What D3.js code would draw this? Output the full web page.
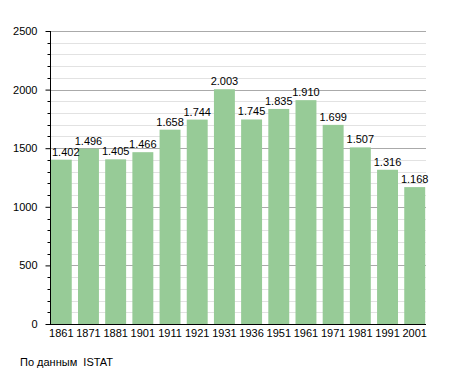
<!DOCTYPE html>
<html>
<head>
<meta charset="utf-8">
<script src="https://cdn.jsdelivr.net/npm/d3@7"></script>
<style>
  body { margin: 0; background: #fff; }
  text { font-family: "Liberation Sans", Arial, sans-serif; font-size: 11px; fill: #000; }
</style>
</head>
<body>
<svg id="chart"></svg>
<script>
// population by census year
var years = ['1861', '1871', '1881', '1901', '1911', '1921', '1931', '1936', '1951', '1961', '1971', '1981', '1991', '2001'];
var population = [1402, 1496, 1405, 1466, 1658, 1744, 2003, 1745, 1835, 1910, 1699, 1507, 1316, 1168];
var yTicks = [0, 500, 1000, 1500, 2000, 2500];
var sourceNote = 'По данным  ISTAT';

var width = 455, height = 373;
var plotLeft = 50, plotRight = 426, plotTop = 31, plotBottom = 324;

var svg = d3.select('#chart')
            .attr('width', width)
            .attr('height', height);

var x = d3.scaleBand()
          .domain(years)
          .range([plotLeft, plotRight])
          .paddingInner(0.23)
          .paddingOuter(0.03);

var y = d3.scaleLinear()
          .domain([0, 2500])
          .range([plotBottom, plotTop]);

// minor gridlines every 100
var minor = d3.range(100, 2501, 100).filter(function(d){ return d % 500 !== 0; });
svg.append('g').selectAll('line')
   .data(minor)
   .enter().append('line')
   .attr('x1', plotLeft).attr('x2', plotRight)
   .attr('y1', function(d){ return Math.round(y(d)) + 0.5; })
   .attr('y2', function(d){ return Math.round(y(d)) + 0.5; })
   .attr('stroke', '#e2e2e2');

// major gridlines
svg.append('g').selectAll('line')
   .data(yTicks.filter(function(d){ return d > 0; }))
   .enter().append('line')
   .attr('x1', plotLeft).attr('x2', plotRight)
   .attr('y1', function(d){ return Math.round(y(d)) + 0.5; })
   .attr('y2', function(d){ return Math.round(y(d)) + 0.5; })
   .attr('stroke', '#aaaaaa');

// minor ticks on the axis
svg.append('g').selectAll('line')
   .data(minor)
   .enter().append('line')
   .attr('x1', plotLeft - 2.5).attr('x2', plotLeft + 0.5)
   .attr('y1', function(d){ return Math.round(y(d)) + 0.5; })
   .attr('y2', function(d){ return Math.round(y(d)) + 0.5; })
   .attr('stroke', '#000');

// bars
svg.append('g').selectAll('rect')
   .data(population)
   .enter().append('rect')
   .attr('x', function(d, i){ return x(years[i]); })
   .attr('y', function(d){ return y(d); })
   .attr('width', x.bandwidth())
   .attr('height', function(d){ return y(0) - y(d); })
   .attr('fill', '#97cb97');

// y axis
var yAxis = svg.append('g')
   .attr('transform', 'translate(' + (plotLeft + 0.5) + ',0)')
   .call(d3.axisLeft(y).tickValues(yTicks).tickSize(5).tickPadding(8).tickFormat(d3.format('d')));
yAxis.select('.domain').attr('d', 'M0,' + plotTop + 'V' + (plotBottom + 0.5));
yAxis.selectAll('text').attr('font-size', 11).attr('font-family', null);

// x axis
var xAxis = svg.append('g')
   .attr('transform', 'translate(0,' + (plotBottom + 0.5) + ')')
   .call(d3.axisBottom(x).tickSize(0).tickPadding(5));
xAxis.select('.domain').attr('d', 'M' + plotLeft + ',0H' + plotRight).attr('stroke', '#000');
xAxis.selectAll('text').attr('font-size', 11).attr('font-family', null);

// value labels, kept clear of the y axis
var fmt = d3.formatLocale({ decimal: ',', thousands: '.', grouping: [3], currency: ['', ''] }).format(',d');
svg.append('g').selectAll('text')
   .data(population)
   .enter().append('text')
   .attr('y', function(d){ return y(d) - 4; })
   .attr('text-anchor', 'middle')
   .text(function(d){ return fmt(d); })
   .attr('x', function(d, i){
       var cx = x(years[i]) + x.bandwidth() / 2;
       var half = this.getComputedTextLength() / 2;
       return Math.max(cx, plotLeft + 2 + half);
   });

svg.append('text')
   .attr('x', 20)
   .attr('y', 366)
   .style('white-space', 'pre')
   .text(sourceNote);
</script>
</body>
</html>
